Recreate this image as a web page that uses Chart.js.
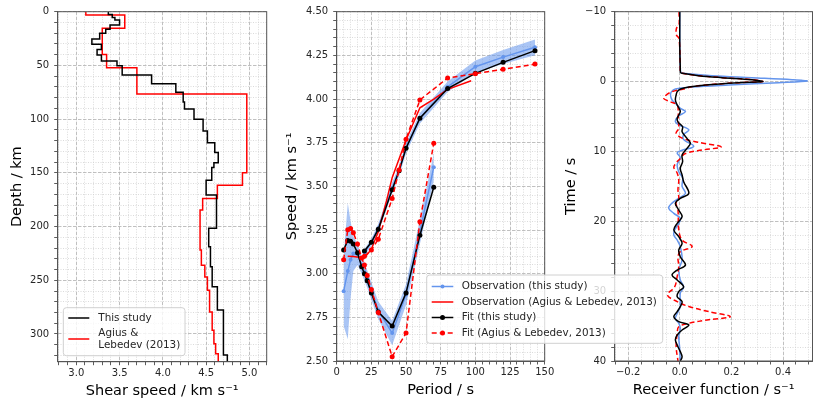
<!DOCTYPE html>
<html>
<head>
<meta charset="utf-8">
<script src="https://cdn.jsdelivr.net/npm/chart.js@4.4.1/dist/chart.umd.min.js"></script>
<style>
  html, body { margin: 0; padding: 0; background: #fff; }
  #wrap { position: relative; width: 814px; height: 404px; }
  #wrap canvas { position: absolute; left: 0; top: 0; }
</style>
</head>
<body>
<div id="wrap">
  <canvas id="profileChart" width="814" height="404"></canvas>
  <canvas id="rfChart" width="814" height="404"></canvas>
  <canvas id="dispChart" width="814" height="404"></canvas>
</div>
<script>
// ---- shear-velocity profiles: layer top depth (km) and speed (km/s)
const thisTops = [0, 2.5, 5.5, 7.7, 12.4, 16.4, 20.1, 25.5, 30.4, 35.1, 40.4, 46, 50.3, 59, 67, 75, 84, 90.6, 100, 111, 122, 131, 140.6, 145, 157, 170.6, 201.6, 218.7, 237.4, 256, 277.7, 319.6];
const thisVs   = [3.37, 3.415, 3.446, 3.50, 3.39, 3.34, 3.27, 3.18, 3.29, 3.24, 3.29, 3.47, 3.53, 3.87, 4.15, 4.235, 4.25, 4.36, 4.465, 4.515, 4.60, 4.64, 4.59, 4.565, 4.50, 4.62, 4.53, 4.55, 4.57, 4.63, 4.70, 4.745];
const alTops = [0, 3.1, 15.5, 39.8, 52.2, 76.7, 150, 161.5, 173.9, 184.6, 221.9, 236, 246.9, 259.3, 279.5, 296.6, 309, 318.3];
const alVs   = [3.11, 3.56, 3.30, 3.35, 3.70, 4.97, 4.92, 4.63, 4.46, 4.43, 4.445, 4.485, 4.515, 4.54, 4.57, 4.59, 4.61, 4.64];
const profileBottom = 325.8;

// ---- dispersion: group branch (5-70 s) and phase branch (20-143 s)
const groupPeriods = [5, 8, 10, 12, 15, 18, 20, 22, 25, 30, 40, 50, 60, 70];
const groupObs     = [2.90, 3.015, 3.08, 3.115, 3.11, 3.05, 3.01, 2.97, 2.90, 2.79, 2.66, 2.88, 3.24, 3.61];
const groupObsErr  = [0.20, 0.39, 0.22, 0.10, 0.06, 0.05, 0.05, 0.05, 0.05, 0.05, 0.07, 0.06, 0.07, 0.08];
const groupFit     = [3.136, 3.19, 3.185, 3.17, 3.12, 3.04, 3.00, 2.96, 2.89, 2.78, 2.70, 2.89, 3.22, 3.495];
const groupFitAL   = [3.08, 3.252, 3.258, 3.235, 3.17, 3.09, 3.05, 2.99, 2.91, 2.777, 2.525, 2.66, 3.298, 3.747];

const phasePeriods = [20, 25, 30, 40, 45, 50, 60, 80, 100, 120, 143];
const phaseObs     = [3.12, 3.18, 3.26, 3.49, 3.59, 3.72, 3.89, 4.07, 4.185, 4.24, 4.296];
const phaseObsErr  = [0.02, 0.02, 0.025, 0.03, 0.03, 0.03, 0.03, 0.03, 0.035, 0.04, 0.045];
const phaseFit     = [3.13, 3.18, 3.255, 3.48, 3.59, 3.718, 3.89, 4.06, 4.147, 4.21, 4.277];
const phaseFitAL   = [3.10, 3.136, 3.197, 3.43, 3.594, 3.77, 3.995, 4.12, 4.145, 4.17, 4.20];

const alObsPeriods = [8, 12, 16, 20, 25, 30, 36, 40, 50, 60, 70, 80, 97];
const alObs        = [3.10, 3.098, 3.094, 3.09, 3.14, 3.24, 3.42, 3.55, 3.765, 3.95, 4.0, 4.055, 4.105];

// ---- receiver functions: [time (s), amplitude (1/s)]
const rfObs = [[-10, 0], [-5, 0], [-2, 0.002], [-1.3, 0.004], [-1.18, 0.012], [-0.84, 0.125], [-0.56, 0.28], [-0.27, 0.435], [-0.08, 0.493], [0.16, 0.383], [0.49, 0.19], [0.78, 0.048], [1.06, -0.017], [1.44, -0.032], [1.92, -0.036], [2.64, -0.03], [3.11, -0.017], [3.82, 0.002], [4.3, 0.022], [5.0, -0.007], [5.74, -0.017], [6.2, -0.004], [6.9, 0.035], [7.6, 0.015], [8.3, 0.015], [9.27, 0.054], [9.84, 0.009], [10.2, -0.01], [10.9, 0.002], [11.9, -0.01], [12.9, -0.004], [13.8, 0.011], [15.0, 0.009], [16.0, 0.022], [16.7, -0.004], [17.4, -0.03], [18.1, -0.043], [18.86, -0.023], [19.57, 0.002], [20.29, -0.004], [21.25, -0.02], [21.96, -0.023], [22.68, -0.01], [23.63, 0.002], [25.5, 0.009], [26.98, -0.004], [28.4, 0.002], [29.4, 0.015], [30.3, 0.002], [32.2, 0.002], [33.2, -0.01], [33.9, -0.017], [34.6, -0.004], [35.3, 0.002], [36.5, -0.004], [37.9, -0.001], [40, 0.002]];
const rfFit = [[-10, 0], [-5, 0], [-2, 0.002], [-1.3, 0.003], [-1.18, 0.009], [-0.84, 0.073], [-0.56, 0.164], [-0.27, 0.28], [0, 0.321], [0.16, 0.228], [0.49, 0.1], [0.78, 0.035], [1.06, 0.003], [1.44, -0.01], [1.92, -0.014], [2.64, -0.017], [3.35, -0.01], [4.3, 0.002], [5.26, -0.01], [5.84, -0.006], [6.46, 0.011], [7.18, 0.009], [8.13, 0.028], [8.84, 0.041], [9.56, 0.028], [10.52, 0.009], [11.47, 0.011], [12.42, 0.002], [13.38, 0.009], [14.34, 0.015], [16.0, 0.035], [16.72, 0.002], [17.43, -0.017], [18.39, -0.004], [19.34, 0.009], [20.29, -0.01], [21.25, -0.023], [22.2, -0.004], [23.16, 0.009], [24.11, -0.004], [25.07, 0.002], [26.26, 0.022], [26.98, -0.01], [27.7, -0.03], [28.4, -0.01], [29.4, 0.015], [30.07, -0.004], [30.79, -0.01], [31.5, 0.009], [32.22, 0.002], [32.93, -0.01], [33.65, -0.023], [34.36, -0.004], [34.84, 0.035], [35.56, 0.009], [36.28, -0.01], [36.99, -0.017], [37.95, -0.007], [38.66, 0.002], [39.38, 0.009], [40, 0.002]];
const rfFitAL = [[-10, -0.003], [-8.1, -0.003], [-7.6, -0.013], [-6.66, -0.013], [-6.2, -0.003], [-2, 0.002], [-1.3, 0.003], [-1.18, 0.009], [-0.84, 0.073], [-0.56, 0.164], [-0.27, 0.28], [0, 0.321], [0.16, 0.228], [0.49, 0.1], [0.78, 0.04], [1.0, 0.022], [1.54, -0.036], [2.4, -0.062], [2.9, -0.036], [3.35, -0.01], [4.3, -0.006], [5.5, -0.006], [6.7, -0.004], [7.4, -0.014], [8.1, 0.009], [8.7, 0.073], [9.35, 0.16], [9.8, 0.087], [10.3, 0.022], [11.0, 0.002], [12.2, -0.023], [13.1, -0.01], [14.1, -0.004], [15.5, -0.007], [16.95, -0.004], [17.4, -0.015], [18.4, -0.007], [21.25, -0.004], [22.7, 0.009], [23.6, 0.048], [24.35, 0.002], [25.1, -0.007], [26.5, -0.004], [27.9, -0.01], [29.4, -0.02], [30.55, -0.048], [31.5, -0.01], [32.2, 0.035], [32.93, 0.112], [33.65, 0.196], [34.1, 0.112], [34.6, 0.035], [35.1, -0.004], [36.05, -0.01], [37.95, -0.014], [40, -0.007]];

// ---- shared styling
Chart.defaults.font.family = '"DejaVu Sans", sans-serif';
Chart.defaults.font.size = 10;
Chart.defaults.color = '#262626';

const BLUE = '#6495ED';
const BAND = 'rgba(100, 149, 237, 0.55)';
const MINUS = '\u2212';

function isMultiple(v, step) {
  const r = v / step;
  return Math.abs(r - Math.round(r)) < 1e-6;
}

// linear axis with dashed major / dotted minor grid, matplotlib-like
function gridAxis(o) {
  const major = ctx => ctx.tick && isMultiple(ctx.tick.value, o.major);
  return {
    type: 'linear',
    position: o.position,
    min: o.min,
    max: o.max,
    reverse: !!o.reverse,
    afterBuildTicks: axis => {
      const ticks = [];
      const first = Math.ceil(o.min / o.minor - 1e-9);
      const last = Math.floor(o.max / o.minor + 1e-9);
      for (let i = first; i <= last; i++) ticks.push({ value: +(i * o.minor).toFixed(6) });
      axis.ticks = ticks;
    },
    afterFit: axis => {
      if (o.width) axis.width = o.width;
      if (o.height) axis.height = o.height;
    },
    ticks: {
      autoSkip: false,
      maxRotation: 0,
      padding: o.pad,
      color: '#262626',
      font: { size: 10 },
      callback: v => isMultiple(v, o.major) ? o.fmt(v).replace('-', MINUS) : ''
    },
    grid: {
      color: ctx => major(ctx) ? '#b0b0b0' : '#d2d2d2',
      lineWidth: 0.8,
      tickLength: 3.5,
      tickColor: '#333',
      tickWidth: 0.8
    },
    border: {
      color: '#555',
      width: 1,
      dash: ctx => major(ctx) ? [3.5, 1.5] : [1, 1.5]
    },
    title: {
      display: true,
      text: o.title,
      color: '#000',
      padding: 0,
      font: { size: 14.5 }
    }
  };
}

// box around the plot area (all four spines)
const framePlugin = {
  id: 'frame',
  afterDatasetsDraw(chart) {
    const { ctx, chartArea: a } = chart;
    ctx.save();
    ctx.strokeStyle = '#555';
    ctx.lineWidth = 1;
    ctx.strokeRect(a.left, a.top, a.right - a.left, a.bottom - a.top);
    ctx.restore();
  }
};

// framed legend drawn inside the axes, like matplotlib's
function boxLegend(cfg) {
  return {
    id: 'boxLegend',
    afterDraw(chart) {
      const ctx = chart.ctx;
      const [bx, by, bw, bh] = cfg.box;
      ctx.save();
      ctx.beginPath();
      ctx.roundRect(bx, by, bw, bh, 3);
      ctx.fillStyle = 'rgba(255,255,255,0.8)';
      ctx.fill();
      ctx.strokeStyle = '#d0d0d0';
      ctx.lineWidth = 1;
      ctx.stroke();
      cfg.rows.forEach(row => {
        const ds = chart.data.datasets[row.ds];
        const [x0, x1] = cfg.lineX;
        ctx.strokeStyle = ds.borderColor;
        ctx.lineWidth = ds.borderWidth;
        ctx.setLineDash(ds.borderDash || []);
        ctx.beginPath();
        ctx.moveTo(x0, row.y);
        ctx.lineTo(x1, row.y);
        ctx.stroke();
        ctx.setLineDash([]);
        if (ds.pointRadius) {
          ctx.fillStyle = ds.pointBackgroundColor;
          ctx.beginPath();
          ctx.arc((x0 + x1) / 2, row.y, ds.pointRadius, 0, 2 * Math.PI);
          ctx.fill();
        }
        ctx.fillStyle = '#262626';
        ctx.font = '10.4px "DejaVu Sans"';
        ctx.textBaseline = 'middle';
        ctx.textAlign = 'left';
        const lines = [].concat(row.text);
        lines.forEach((t, k) => {
          ctx.fillText(t, cfg.textX, row.y + (k - (lines.length - 1) / 2) * cfg.lineHeight);
        });
      });
      ctx.restore();
    }
  };
}

function stepPoints(tops, speeds, bottom) {
  const pts = tops.map((z, i) => ({ x: speeds[i], y: z }));
  pts.push({ x: speeds[speeds.length - 1], y: bottom });
  return pts;
}
function xy(xs, ys) {
  return xs.map((x, i) => ({ x: x, y: ys[i] }));
}
function bandEdge(xs, ys, err, sign) {
  return xs.map((x, i) => ({ x: x, y: ys[i] + sign * err[i] }));
}
function rfPoints(pairs) {
  return pairs.map(p => ({ x: p[1], y: p[0] }));
}

const baseOptions = {
  responsive: false,
  animation: false,
  events: [],
  plugins: { legend: { display: false }, tooltip: { enabled: false } }
};

document.addEventListener('DOMContentLoaded', function () {
  // ---------- left: shear-velocity profile
  new Chart(document.getElementById('profileChart'), {
    type: 'scatter',
    data: {
      datasets: [{
        label: 'This study',
        data: stepPoints(thisTops, thisVs, profileBottom),
        showLine: true, stepped: 'after',
        borderColor: '#000', borderWidth: 1.5, pointRadius: 0
      }, {
        label: 'Agius & Lebedev (2013)',
        data: stepPoints(alTops, alVs, profileBottom),
        showLine: true, stepped: 'after',
        borderColor: '#ff0000', borderWidth: 1.5, pointRadius: 0
      }]
    },
    options: Object.assign({}, baseOptions, {
      layout: { padding: { left: 9, right: 547.3, top: 11.7, bottom: 4.3 } },
      scales: {
        x: gridAxis({ position: 'bottom', min: 2.785, max: 5.2, minor: 0.1, major: 0.5, pad: 2,
          height: 38, fmt: v => v.toFixed(1), title: 'Shear speed / km s\u207B\u00B9' }),
        y: gridAxis({ position: 'left', min: 0, max: profileBottom, reverse: true, minor: 10, major: 50, pad: 5,
          width: 48.7, fmt: v => String(Math.round(v)), title: 'Depth / km' })
      }
    }),
    plugins: [framePlugin, boxLegend({
      box: [63.3, 307.7, 121.7, 48], lineX: [68.3, 89.3], textX: 98.3, lineHeight: 12.3,
      rows: [{ ds: 0, y: 318, text: 'This study' }, { ds: 1, y: 339, text: ['Agius &', 'Lebedev (2013)'] }]
    })]
  });

  // ---------- right: receiver functions
  new Chart(document.getElementById('rfChart'), {
    type: 'scatter',
    data: {
      datasets: [{
        label: 'Fit (this study)', data: rfPoints(rfFit), showLine: true, tension: 0.35,
        borderColor: '#000', borderWidth: 1.5, pointRadius: 0, order: 1
      }, {
        label: 'Fit (Agius & Lebedev, 2013)', data: rfPoints(rfFitAL), showLine: true, tension: 0.35,
        borderColor: '#ff0000', borderWidth: 1.5, borderDash: [5, 3], pointRadius: 0, order: 2
      }, {
        label: 'Observation (this study)', data: rfPoints(rfObs), showLine: true, tension: 0.35,
        borderColor: BLUE, borderWidth: 1.5, pointRadius: 0, order: 3
      }]
    },
    options: Object.assign({}, baseOptions, {
      layout: { padding: { left: 563, right: 1.5, top: 11.7, bottom: 4.8 } },
      scales: {
        x: gridAxis({ position: 'bottom', min: -0.252, max: 0.514, minor: 0.05, major: 0.2, pad: 2,
          height: 38.2, fmt: v => v.toFixed(1), title: 'Receiver function / s\u207B\u00B9' }),
        y: gridAxis({ position: 'left', min: -10, max: 40, reverse: true, minor: 2, major: 10, pad: 5,
          width: 51.7, fmt: v => String(Math.round(v)), title: 'Time / s' })
      }
    }),
    plugins: [framePlugin]
  });

  // ---------- middle: dispersion curves (drawn last, its legend overlaps the right panel)
  new Chart(document.getElementById('dispChart'), {
    type: 'scatter',
    data: {
      datasets: [
        { data: bandEdge(groupPeriods, groupObs, groupObsErr, 1), showLine: true, borderWidth: 0, pointRadius: 0, order: 9 },
        { data: bandEdge(groupPeriods, groupObs, groupObsErr, -1), showLine: true, borderWidth: 0, pointRadius: 0,
          fill: '-1', backgroundColor: BAND, order: 9 },
        { data: bandEdge(phasePeriods, phaseObs, phaseObsErr, 1), showLine: true, borderWidth: 0, pointRadius: 0, order: 9 },
        { data: bandEdge(phasePeriods, phaseObs, phaseObsErr, -1), showLine: true, borderWidth: 0, pointRadius: 0,
          fill: '-1', backgroundColor: BAND, order: 9 },
        { label: 'Observation (this study)', data: xy(groupPeriods, groupObs), showLine: true,
          borderColor: BLUE, borderWidth: 1.5, pointRadius: 2, pointBackgroundColor: BLUE, pointBorderWidth: 0, order: 5 },
        { data: xy(phasePeriods, phaseObs), showLine: true,
          borderColor: BLUE, borderWidth: 1.5, pointRadius: 2, pointBackgroundColor: BLUE, pointBorderWidth: 0, order: 5 },
        { label: 'Observation (Agius & Lebedev, 2013)', data: xy(alObsPeriods, alObs), showLine: true,
          borderColor: '#ff0000', borderWidth: 1.5, pointRadius: 0, order: 4 },
        { label: 'Fit (this study)', data: xy(groupPeriods, groupFit), showLine: true,
          borderColor: '#000', borderWidth: 1.5, pointRadius: 2.5, pointBackgroundColor: '#000', pointBorderWidth: 0, order: 3 },
        { data: xy(phasePeriods, phaseFit), showLine: true,
          borderColor: '#000', borderWidth: 1.5, pointRadius: 2.5, pointBackgroundColor: '#000', pointBorderWidth: 0, order: 3 },
        { label: 'Fit (Agius & Lebedev, 2013)', data: xy(groupPeriods, groupFitAL), showLine: true,
          borderColor: '#ff0000', borderWidth: 1.5, borderDash: [5, 3], pointRadius: 2.5,
          pointBackgroundColor: '#ff0000', pointBorderWidth: 0, order: 2 },
        { data: xy(phasePeriods, phaseFitAL), showLine: true,
          borderColor: '#ff0000', borderWidth: 1.5, borderDash: [5, 3], pointRadius: 2.5,
          pointBackgroundColor: '#ff0000', pointBorderWidth: 0, order: 2 }
      ]
    },
    options: Object.assign({}, baseOptions, {
      layout: { padding: { left: 284, right: 269.3, top: 11.7, bottom: 4.8 } },
      scales: {
        x: gridAxis({ position: 'bottom', min: 0, max: 150, minor: 5, major: 25, pad: 2,
          height: 38.2, fmt: v => String(Math.round(v)), title: 'Period / s' }),
        y: gridAxis({ position: 'left', min: 2.5, max: 4.5, minor: 0.05, major: 0.25, pad: 5,
          width: 52.7, fmt: v => v.toFixed(2), title: 'Speed / km s\u207B\u00B9' })
      }
    }),
    plugins: [framePlugin, boxLegend({
      box: [426.7, 275, 236, 68.3], lineX: [431.7, 453.3], textX: 461.7, lineHeight: 12,
      rows: [
        { ds: 4, y: 286.5, text: 'Observation (this study)' },
        { ds: 6, y: 302, text: 'Observation (Agius & Lebedev, 2013)' },
        { ds: 7, y: 317.5, text: 'Fit (this study)' },
        { ds: 9, y: 333, text: 'Fit (Agius & Lebedev, 2013)' }
      ]
    })]
  });
});
</script>
</body>
</html>
